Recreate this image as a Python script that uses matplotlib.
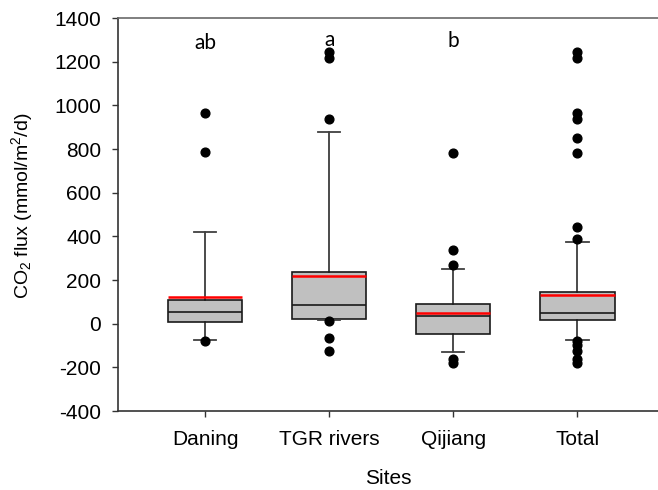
import matplotlib
matplotlib.use("Agg")
import matplotlib.pyplot as plt

plt.rcParams['font.family'] = ['Liberation Sans', 'DejaVu Sans']
plt.rcParams['mathtext.default'] = 'regular'
plt.rcParams['axes.unicode_minus'] = False

# values
sites = ["Daning", "TGR rivers", "Qijiang", "Total"]
q1 = [9, 23, -47, 15]
medians = [52, 84, 35, 50]
q3 = [107, 238, 89, 147]
means = [122, 217, 49, 133]
whisk_lo = [-73, 18, -128, -75]
whisk_hi = [421, 878, 252, 376]
fliers = [
    [964, 785, -78],
    [1246, 1215, 936, 14, -67, -124],
    [783, 338, 269, -163, -181],
    [1246, 1215, 966, 938, 849, 783, 444, 386, -78, -97, -124, -163, -181],
]
letters = ["ab", "a", "b", ""]
letter_y = [1257, 1273, 1269, 0]

stats = []
for i, name in enumerate(sites):
    stats.append(dict(label=name, med=medians[i], q1=q1[i], q3=q3[i],
                      whislo=whisk_lo[i], whishi=whisk_hi[i],
                      mean=means[i], fliers=fliers[i]))

fig = plt.figure(figsize=(6.58, 4.90), dpi=100)
ax = fig.add_axes([118 / 658, (490 - 411) / 490, (658 - 118) / 658, (411 - 18) / 490])

ax.bxp(stats, positions=[1, 2, 3, 4], widths=0.6, capwidths=0.18,
       patch_artist=True, showmeans=True, meanline=True,
       boxprops=dict(facecolor='#c0c0c0', edgecolor='#1a1a1a', linewidth=1.2),
       medianprops=dict(color='#1a1a1a', linewidth=1.2),
       meanprops=dict(color='red', linewidth=1.8, linestyle='-'),
       whiskerprops=dict(color='#1a1a1a', linewidth=1.1),
       capprops=dict(color='#404040', linewidth=1.3),
       flierprops=dict(marker='o', markersize=6.3, markerfacecolor='black',
                       markeredgecolor='black'))

for i, t in enumerate(letters):
    if t:
        ax.text(i + 1, letter_y[i], t, ha='center', va='baseline',
                fontsize=15, family=['Lato', 'DejaVu Sans'])

ax.set_ylim(-400, 1400)
ax.set_yticks(range(-400, 1401, 200))
ax.set_xlim(0.298, 4.65)
ax.set_xticks([1, 2, 3, 4])
ax.set_xticklabels(sites)

ax.tick_params(axis='both', labelsize=15, direction='out', length=4, width=1,
               color='#333333')
ax.tick_params(axis='x', pad=10)
ax.tick_params(axis='y', pad=8)

ax.spines['right'].set_visible(False)
ax.spines['top'].set_color('#6a6a6a')
ax.spines['left'].set_color('#333333')
ax.spines['bottom'].set_color('#333333')
for s in ax.spines.values():
    s.set_linewidth(1.2)

ax.set_xlabel('Sites', fontsize=15)
ax.xaxis.label.set_va('center')
ax.xaxis.set_label_coords(0.5, (411 - 478) / 393)
ax.set_ylabel(r'CO$_2$ flux (mmol/m$^2$/d)', fontsize=14)
ax.yaxis.label.set_va('center')
ax.yaxis.set_label_coords((22 - 118) / 540, (411 - 206) / 393)

fig.savefig('out.png', dpi=100)
